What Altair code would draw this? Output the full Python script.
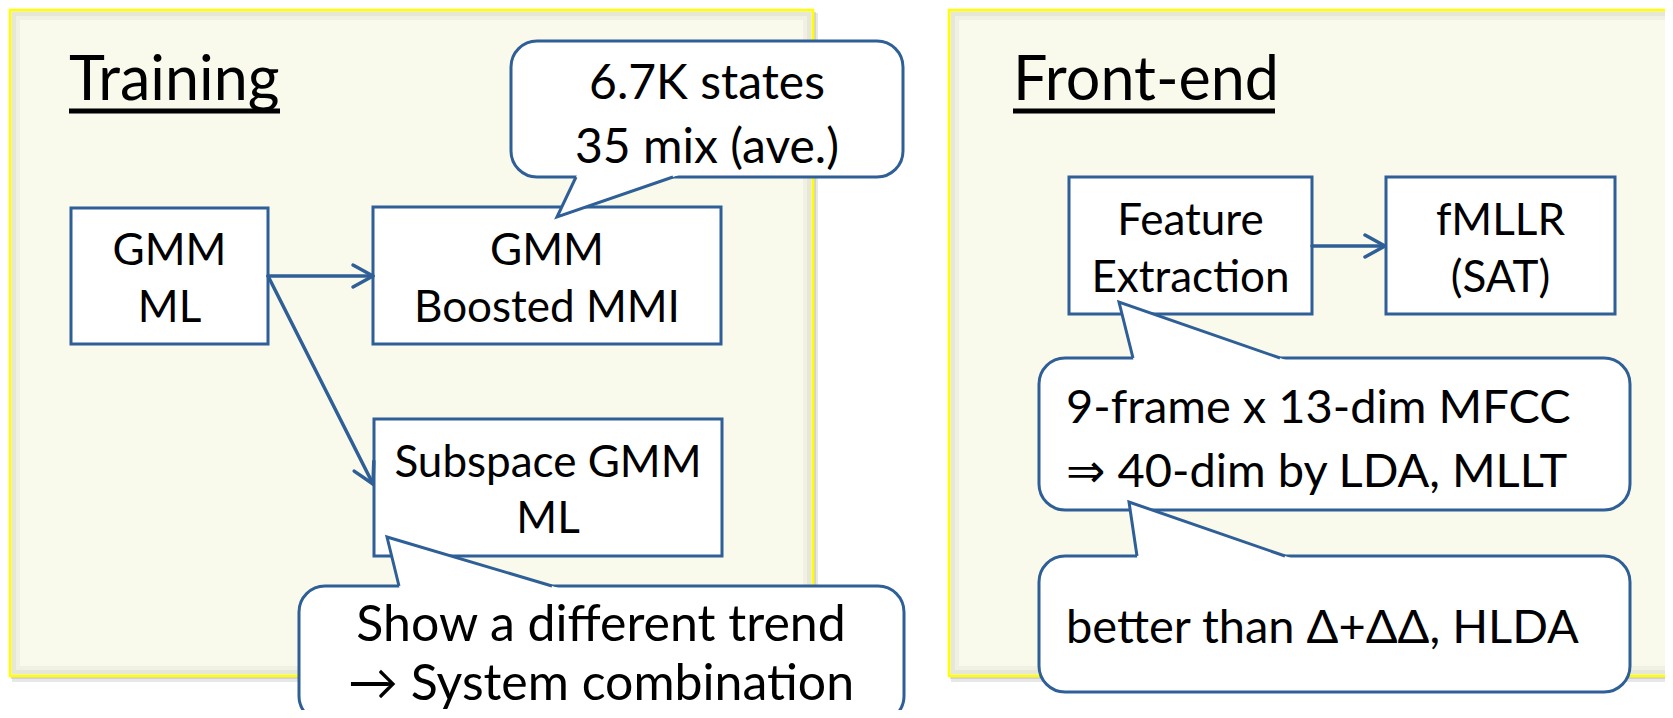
import altair as alt
import pandas as pd
import numpy as np

# ---------------- page / frame ----------------
W, H = 1657, 702          # plot area (page has 8px margin on every side)
OFF = 8
BLUE = "#2F5F97"
FONT = "Lato, 'DejaVu Sans', sans-serif"

# ---------------- panels ----------------
panel_x0 = [10, 949]
panel_x1 = [813, 1720]
panel_y0 = [10, 10]
panel_y1 = [676, 676]

# ---------------- titles ----------------
title_text = ["Training", "Front-end"]
title_x0 = [69, 1013]
title_x1 = [280, 1275]
title_base = [100, 100]
title_line_y = [111, 111]

# ---------------- boxes ----------------
box_x0 = [71, 373, 374, 1069, 1386]
box_x1 = [268, 721, 722, 1312, 1615]
box_y0 = [208, 207, 419, 177, 177]
box_y1 = [344, 344, 556, 314, 314]
box_line1 = ["GMM", "GMM", "Subspace GMM", "Feature", "fMLLR"]
box_line2 = ["ML", "Boosted MMI", "ML", "Extraction", "(SAT)"]
box_base1 = [265, 265, 477, 235, 235]
box_base2 = [322, 322, 533, 292, 292]

# ---------------- arrows ----------------
arrow_x0 = [268, 268, 1312]
arrow_y0 = [276, 276, 246]
arrow_x1 = [373, 373, 1385]
arrow_y1 = [276, 484, 246]

# ---------------- callouts ----------------
bub_x0 = [511, 299, 1039, 1039]
bub_x1 = [903, 904, 1630, 1630]
bub_y0 = [41, 586, 358, 556]
bub_y1 = [177, 722, 510, 692]
tail_tip_x = [557, 387, 1119, 1129]
tail_tip_y = [217, 537, 302, 502]
tail_base_l = [576, 399, 1133, 1137]
tail_base_r = [673, 552, 1280, 1285]
tail_base_y = [177, 586, 358, 556]

bub_lines = [["6.7K states", "35 mix (ave.)"],
             ["Show a different trend", "→ System combination"],
             ["9-frame x 13-dim MFCC", "⇒ 40-dim by LDA, MLLT"],
             ["better than Δ+ΔΔ, HLDA"]]
bub_text_x = [707, 601, 1066, 1066]
bub_align = ["center", "center", "left", "left"]
bub_base = [[99, 163], [641, 700], [423, 487], [643]]
bub_font = [48, 50, 47, 47]

# ---------------- scales ----------------
xs = alt.Scale(domain=[OFF, OFF + W], nice=False, zero=False)
ys = alt.Scale(domain=[OFF, OFF + H], nice=False, zero=False, reverse=True)


def X(f="x"):
    return alt.X(f"{f}:Q", scale=xs, axis=None, stack=None)


def Y(f="y"):
    return alt.Y(f"{f}:Q", scale=ys, axis=None, stack=None)


def rect_layer(df, **mk):
    return alt.Chart(df).mark_rect(**mk).encode(
        x=X("x0"), x2="x1:Q", y=Y("y0"), y2="y1:Q")


panels = pd.DataFrame(dict(x0=panel_x0, x1=panel_x1, y0=panel_y0, y1=panel_y1))
shadow1 = panels.assign(x0=panels.x0 + 2, x1=panels.x1 + 5, y0=panels.y0 + 3, y1=panels.y1 + 6)
shadow2 = panels.assign(x0=panels.x0 + 1, x1=panels.x1 + 3, y0=panels.y0 + 2, y1=panels.y1 + 3)
inset1 = panels.assign(x0=panels.x0 + 4, x1=panels.x1 - 4, y0=panels.y0 + 4, y1=panels.y1 - 4)
inset2 = panels.assign(x0=panels.x0 + 8, x1=panels.x1 - 8, y0=panels.y0 + 8, y1=panels.y1 - 8)

layers = [
    rect_layer(shadow1, color="#D0D0D0", opacity=0.5),
    rect_layer(shadow2, color="#C4C4C4", opacity=0.6),
    rect_layer(panels, color="#F9F9EC"),
    rect_layer(inset1, fillOpacity=0, stroke="#E7E7D8", strokeWidth=5),
    rect_layer(inset2, fillOpacity=0, stroke="#F1F1E3", strokeWidth=4),
    rect_layer(panels, fillOpacity=0, stroke="#FFFF00", strokeWidth=2.5),
]

# boxes
boxes = pd.DataFrame(dict(x0=box_x0, x1=box_x1, y0=box_y0, y1=box_y1))
layers.append(rect_layer(boxes, fill="white", stroke=BLUE, strokeWidth=3))

# arrows: shafts + open chevron heads
arr_rows = []
for i in range(len(arrow_x0)):
    p0 = np.array([arrow_x0[i], arrow_y0[i]], float)
    p1 = np.array([arrow_x1[i], arrow_y1[i]], float)
    d = (p1 - p0) / np.linalg.norm(p1 - p0)
    n = np.array([-d[1], d[0]])
    arr_rows += [dict(id=f"s{i}", o=0, x=p0[0], y=p0[1]),
                 dict(id=f"s{i}", o=1, x=p1[0], y=p1[1])]
    a = p1 - 20 * d + 11 * n
    b = p1 - 20 * d - 11 * n
    arr_rows += [dict(id=f"h{i}", o=0, x=a[0], y=a[1]),
                 dict(id=f"h{i}", o=1, x=p1[0], y=p1[1]),
                 dict(id=f"h{i}", o=2, x=b[0], y=b[1])]
arrows = pd.DataFrame(arr_rows)
layers.append(alt.Chart(arrows).mark_line(color=BLUE, strokeWidth=3.5, strokeCap="round",
                                           strokeJoin="round").encode(
    x=X(), y=Y(), detail="id:N", order="o:Q"))

# callout bodies
bubs = pd.DataFrame(dict(x0=bub_x0, x1=bub_x1, y0=bub_y0, y1=bub_y1))
layers.append(rect_layer(bubs, fill="white", stroke=BLUE, strokeWidth=3, cornerRadius=26))

# callout tails: white fill then blue sides
fill_rows, side_rows = [], []
for i in range(len(tail_tip_x)):
    tx, ty, by = tail_tip_x[i], tail_tip_y[i], tail_base_y[i]
    sgn = np.sign(by - ty)
    by_in = by + 5 * sgn
    t = (by_in - ty) / (by - ty)
    xl = tx + t * (tail_base_l[i] - tx)
    xr = tx + t * (tail_base_r[i] - tx)
    fill_rows += [dict(id=i, y=ty, x=tx, x2=tx), dict(id=i, y=by_in, x=xl, x2=xr)]
    side_rows += [dict(id=i, o=0, x=tail_base_l[i], y=by),
                  dict(id=i, o=1, x=tx, y=ty),
                  dict(id=i, o=2, x=tail_base_r[i], y=by)]
tails_fill = pd.DataFrame(fill_rows)
tails_side = pd.DataFrame(side_rows)
layers.append(alt.Chart(tails_fill).mark_area(orient="horizontal", color="white").encode(
    y=Y(), x=X(), x2="x2:Q", detail="id:N"))
layers.append(alt.Chart(tails_side).mark_line(color=BLUE, strokeWidth=3, strokeJoin="miter").encode(
    x=X(), y=Y(), detail="id:N", order="o:Q"))

# texts
box_txt = pd.DataFrame(dict(
    x=[(a + b) / 2 for a, b in zip(box_x0, box_x1)] * 2,
    y=box_base1 + box_base2,
    t=box_line1 + box_line2))
layers.append(alt.Chart(box_txt).mark_text(font=FONT, fontSize=44, baseline="alphabetic",
                                            align="center", color="black").encode(
    x=X(), y=Y(), text="t:N"))

for al in ["center", "left"]:
    rows = []
    for i in range(len(bub_lines)):
        if bub_align[i] != al:
            continue
        for line, base in zip(bub_lines[i], bub_base[i]):
            rows.append(dict(x=bub_text_x[i], y=base, t=line, fs=bub_font[i]))
    layers.append(alt.Chart(pd.DataFrame(rows)).mark_text(
        font=FONT, baseline="alphabetic", align=al, color="black").encode(
        x=X(), y=Y(), text="t:N", size=alt.Size("fs:Q", scale=None)))

titles = pd.DataFrame(dict(x=title_x0, x1=title_x1, y=title_base, yl=title_line_y, t=title_text))
layers.append(alt.Chart(titles).mark_text(font=FONT, fontSize=61, baseline="alphabetic",
                                           align="left", color="black").encode(
    x=X(), y=Y(), text="t:N"))
layers.append(alt.Chart(titles).mark_rule(color="black", strokeWidth=5).encode(
    x=X(), x2="x1:Q", y=Y("yl")))

chart = alt.layer(*layers).properties(
    width=W, height=H, padding=0, autosize="none", background="white"
).configure_view(strokeWidth=0)

chart.save("out.html", embed_options={"renderer": "svg", "actions": False})
